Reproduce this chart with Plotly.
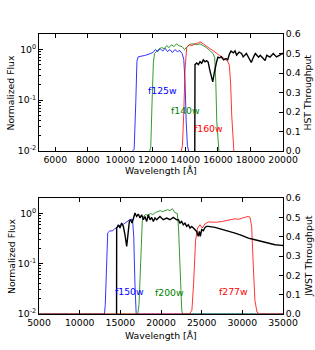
import math
import plotly.graph_objects as go

# ---------------- HST panel data ----------------
hst_f125w_wave = [10750, 10850, 10950, 11020, 11100, 11300, 11500, 11700, 11900, 12000, 12150, 12300,
                  12450, 12600, 12750, 12900, 13050, 13200, 13350, 13500, 13650, 13800, 13900, 13980,
                  14050, 14120, 14200]
hst_f125w_thru = [0.0, 0.01, 0.25, 0.46, 0.483, 0.485, 0.49, 0.495, 0.50, 0.505, 0.52, 0.51,
                  0.525, 0.512, 0.527, 0.51, 0.52, 0.505, 0.52, 0.51, 0.515, 0.50, 0.47, 0.35,
                  0.15, 0.03, 0.0]

hst_f140w_wave = [11800, 11870, 11950, 12030, 12100, 12250, 12400, 12550, 12700, 12850, 13000, 13150,
                  13300, 13450, 13600, 13800, 13950, 14100, 14300, 14500, 14700, 14900, 15100, 15300,
                  15500, 15700, 15800, 15870, 15930, 16000, 16060]
hst_f140w_thru = [0.0, 0.02, 0.25, 0.45, 0.50, 0.515, 0.525, 0.53, 0.525, 0.54, 0.53, 0.545,
                  0.535, 0.55, 0.54, 0.535, 0.52, 0.535, 0.548, 0.55, 0.545, 0.55, 0.54, 0.53,
                  0.515, 0.50, 0.48, 0.35, 0.15, 0.03, 0.0]

hst_f160w_wave = [13750, 13820, 13900, 13980, 14080, 14250, 14400, 14600, 14800, 14900, 15100, 15300,
                  15500, 15700, 15900, 16100, 16300, 16450, 16600, 16700, 16780, 16850, 16920, 16980]
hst_f160w_thru = [0.0, 0.03, 0.20, 0.42, 0.53, 0.545, 0.54, 0.55, 0.555, 0.56, 0.55, 0.535,
                  0.525, 0.515, 0.50, 0.49, 0.48, 0.47, 0.46, 0.44, 0.35, 0.18, 0.05, 0.0]

hst_spec_wave = [14570, 14590, 14700, 14800, 14900, 15000, 15100, 15200, 15300, 15400, 15500, 15600,
                 15680, 15780, 15850, 15920, 16000, 16100, 16200, 16350, 16500, 16600, 16700, 16800,
                 16950, 17050, 17150, 17300, 17450, 17550, 17750, 17950, 18050, 18200, 18300, 18500,
                 18600, 18800, 18900, 19000, 19200, 19400, 19600, 19800, 19950, 20000]
hst_spec_flux = [0.001, 0.50, 0.54, 0.50, 0.57, 0.53, 0.62, 0.57, 0.60, 0.56, 0.39, 0.28,
                 0.23, 0.35, 0.48, 0.57, 0.70, 0.68, 0.715, 0.62, 0.66, 0.62, 0.80, 0.92,
                 0.85, 0.93, 0.77, 0.88, 0.83, 0.71, 0.83, 0.60, 0.55, 0.72, 0.83, 0.70,
                 0.76, 0.65, 0.60, 0.76, 0.70, 0.83, 0.71, 0.77, 0.83, 0.80]

hst_labels = ["f125w", "f140w", "f160w"]
hst_label_wave = [11576, 13008, 14385]
hst_label_thru = [0.31, 0.21, 0.118]

# ---------------- JWST panel data ----------------
jw_f150w_wave = [5000, 13050, 13150, 13300, 13450, 13700, 14000, 14300, 14600, 15000, 15400, 15800,
                 16200, 16500, 16650, 16800, 16950, 35000]
jw_f150w_thru = [0.0, 0.0, 0.05, 0.30, 0.42, 0.43, 0.43, 0.44, 0.45, 0.46, 0.465, 0.48,
                 0.49, 0.49, 0.40, 0.15, 0.0, 0.0]

jw_f200w_wave = [5000, 17150, 17300, 17500, 17700, 17850, 18100, 18400, 18700, 19000, 19300, 19600,
                 19900, 20200, 20500, 20800, 21100, 21400, 21700, 22000, 22150, 22350, 22550, 22650, 35000]
jw_f200w_thru = [0.0, 0.0, 0.05, 0.30, 0.48, 0.505, 0.515, 0.51, 0.52, 0.515, 0.525, 0.53,
                 0.535, 0.53, 0.535, 0.54, 0.535, 0.545, 0.525, 0.52, 0.45, 0.20, 0.02, 0.0, 0.0]

jw_f277w_wave = [5000, 23500, 23800, 24000, 24250, 24500, 24800, 25080, 25400, 25800, 26300, 26800,
                 27400, 27900, 28300, 28700, 29100, 29500, 29900, 30300, 30700, 30950, 31150, 31350,
                 31550, 31800, 32100, 35000]
jw_f277w_thru = [0.0, 0.0, 0.02, 0.15, 0.38, 0.445, 0.462, 0.445, 0.466, 0.476, 0.476, 0.475,
                 0.478, 0.483, 0.485, 0.488, 0.493, 0.49, 0.495, 0.50, 0.505, 0.50, 0.45, 0.25,
                 0.07, 0.01, 0.0, 0.0]

jw_spec_wave = [14530, 14550, 14760, 14960, 15160, 15370, 15570, 15780, 15980, 16110, 16270, 16430,
                16600, 16800, 17000, 17210, 17420, 17620, 17830, 18030, 18240, 18440, 18650, 18850,
                19060, 19260, 19470, 19870, 20280, 20700, 21100, 21520, 21930, 22131, 22336, 22541,
                22746, 22950, 23155, 23360, 23565, 23770, 23975, 24180, 24385, 24590, 24713, 24836,
                25000, 25204, 25409, 25614, 25819, 26639, 27458, 28278, 29098, 29917, 30737, 31556,
                32376, 33195, 34015, 34835, 35040]
jw_spec_flux = [0.001, 0.508, 0.59, 0.508, 0.64, 0.55, 0.374, 0.219, 0.436, 0.688, 0.743, 0.639,
                0.778, 1.01, 0.864, 0.964, 0.803, 0.933, 0.743, 0.864, 0.688, 0.933, 0.743, 0.826,
                0.688, 0.803, 0.743, 0.864, 0.743, 0.803, 0.743, 0.826, 0.743, 0.743, 0.638, 0.689,
                0.591, 0.638, 0.548, 0.591, 0.508, 0.548, 0.508, 0.471, 0.436, 0.347, 0.436, 0.347,
                0.471, 0.450, 0.524, 0.548, 0.548, 0.524, 0.485, 0.450, 0.404, 0.363, 0.321, 0.298,
                0.276, 0.256, 0.237, 0.230, 0.228]

jw_labels = ["f150w", "f200w", "f277w"]
jw_label_wave = [14061, 18979, 26847]
jw_label_thru = [0.115, 0.113, 0.115]

BLUE, GREEN, RED = "#0000ff", "#008000", "#ff0000"
FONT = "DejaVu Sans"
FS = 9.3

fig = go.Figure()


def line(x, y, color, xa, ya, w=0.8):
    fig.add_trace(go.Scatter(x=x, y=y, mode="lines", xaxis=xa, yaxis=ya,
                             line=dict(color=color, width=w), showlegend=False,
                             hoverinfo="skip"))


line(hst_f125w_wave, hst_f125w_thru, BLUE, "x", "y")
line(hst_f140w_wave, hst_f140w_thru, GREEN, "x", "y")
line(hst_f160w_wave, hst_f160w_thru, RED, "x", "y")
line(hst_spec_wave, hst_spec_flux, "black", "x", "y2", 1.4)

line(jw_f150w_wave, jw_f150w_thru, BLUE, "x2", "y3")
line(jw_f200w_wave, jw_f200w_thru, GREEN, "x2", "y3")
line(jw_f277w_wave, jw_f277w_thru, RED, "x2", "y3")
line(jw_spec_wave, jw_spec_flux, "black", "x2", "y4", 1.4)

colors = [BLUE, GREEN, RED]
tickfont = dict(family=FONT, size=FS, color="black")
ann = []
for t, xv, yv, c in zip(hst_labels, hst_label_wave, hst_label_thru, colors):
    ann.append(dict(text=t, x=xv, y=yv, xref="x", yref="y", xanchor="left", yanchor="middle",
                    showarrow=False, font=dict(color=c, size=FS, family=FONT)))
for t, xv, yv, c in zip(jw_labels, jw_label_wave, jw_label_thru, colors):
    ann.append(dict(text=t, x=xv, y=yv, xref="x2", yref="y3", xanchor="left", yanchor="middle",
                    showarrow=False, font=dict(color=c, size=FS, family=FONT)))

# axis titles (placed as paper annotations for exact positioning)
TOP_DOM = [0.582, 1.0]
BOT_DOM = [0.0, 0.414]
for dom, ltxt, rtxt in [(TOP_DOM, "Normalized Flux", "HST Throughput"),
                        (BOT_DOM, "Normalized Flux", "JWST Throughput")]:
    mid = (dom[0] + dom[1]) / 2
    ann.append(dict(text=ltxt, x=0, y=mid, xref="paper", yref="paper", xshift=-28,
                    xanchor="center", yanchor="middle", textangle=-90, showarrow=False,
                    font=tickfont))
    ann.append(dict(text=rtxt, x=1, y=mid, xref="paper", yref="paper", xshift=25,
                    xanchor="center", yanchor="middle", textangle=-90, showarrow=False,
                    font=tickfont))
for dom, shift in [(TOP_DOM, -19), (BOT_DOM, -21)]:
    ann.append(dict(text="Wavelength [Å]", x=0.5, y=dom[0], xref="paper", yref="paper",
                    yshift=shift, xanchor="center", yanchor="middle", showarrow=False,
                    font=tickfont))

common = dict(showgrid=False, zeroline=False, showline=True, linecolor="black", linewidth=1,
              ticks="inside", ticklen=4, tickcolor="black", tickwidth=1, tickfont=tickfont,
              tickangle=0)
minor_vals = [m * 10 ** e for e in (-2, -1) for m in range(2, 10)] + [2]
logaxis = dict(type="log", range=[-2, math.log10(2)], tickvals=[0.01, 0.1, 1],
               ticktext=["10<sup>-2</sup>", "10<sup>-1</sup>", "10<sup>0</sup>"],
               minor=dict(ticks="inside", ticklen=2, tickcolor="black", tickvals=minor_vals),
               side="left", mirror=False)
thruaxis = dict(range=[0, 0.6], tickvals=[0, 0.1, 0.2, 0.3, 0.4, 0.5, 0.6], tickformat=".1f",
                side="right", mirror=False)

fig.update_layout(
    width=315, height=350,
    margin=dict(l=39, r=32, t=34, b=36),
    paper_bgcolor="white", plot_bgcolor="white",
    font=dict(family=FONT, size=FS, color="black"),
    xaxis=dict(**common, domain=[0, 1], anchor="y", range=[5000, 20000],
               tickvals=list(range(6000, 20001, 2000)), tickformat="d", mirror="ticks"),
    yaxis=dict(**common, **thruaxis, domain=TOP_DOM, anchor="x"),
    yaxis2=dict(**common, **logaxis, overlaying="y", anchor="x"),
    xaxis2=dict(**common, domain=[0, 1], anchor="y3", range=[5000, 35000],
                tickvals=list(range(5000, 35001, 5000)), tickformat="d", mirror="ticks"),
    yaxis3=dict(**common, **thruaxis, domain=BOT_DOM, anchor="x2"),
    yaxis4=dict(**common, **logaxis, overlaying="y3", anchor="x2"),
    annotations=ann,
)

# remove the default page margin so the figure fills the 315x350 window exactly
fig.write_html("out.html",
               config={"displayModeBar": False},
               post_script="document.body.style.margin='0';document.body.style.overflow='hidden';")
